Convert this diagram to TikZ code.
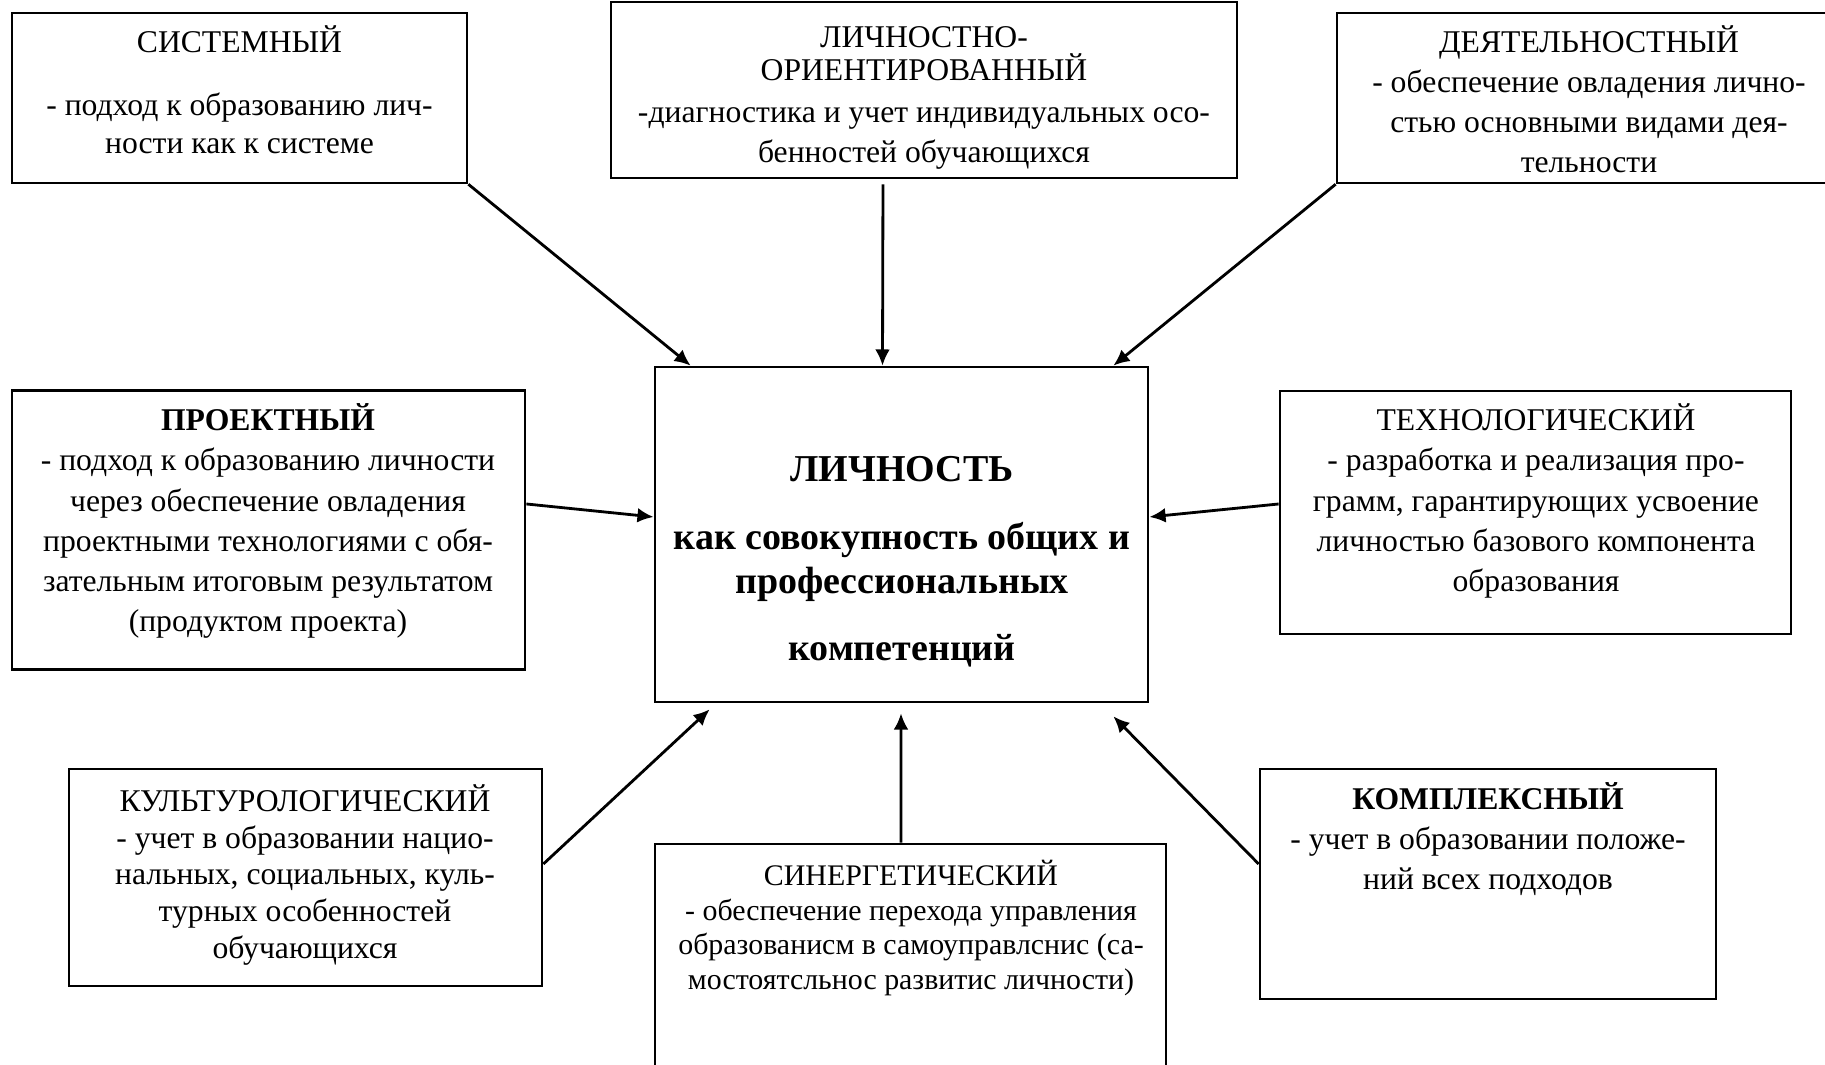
\documentclass[tikz,border=0pt]{standalone}
\usepackage{fontspec}
\setmainfont{Liberation Serif}
\usepackage{tikz}
\usetikzlibrary{arrows.meta}

\tikzset{
  box/.style={draw, line width=0.7pt, inner sep=0pt},
  txt/.style={align=center, inner sep=0pt, font=\fontsize{9}{11.4}\selectfont},
  maintxt/.style={align=center, inner sep=0pt, font=\fontsize{10.8}{12.5}\selectfont\bfseries},
}

\begin{document}
\begin{tikzpicture}[x=0.01cm, y=-0.01cm, line width=0.8pt, >={Latex[length=4.6pt,width=4.2pt]}]
\clip (0,0) rectangle (1825,1065);
% boxes
\node[box, minimum width=4.55cm, minimum height=1.70cm]  (sys)    at (239.5,98)   {};
\node[box, minimum width=6.26cm, minimum height=1.76cm]  (lichor) at (924,90)     {};
\node[box, minimum width=5.04cm, minimum height=1.70cm]  (deyat)  at (1589,98)    {};
\node[box, minimum width=5.13cm, minimum height=2.785cm] (proekt) at (268.5,530)  {};
\node[box, minimum width=4.93cm, minimum height=3.35cm]  (ctr)    at (901.5,534.5){};
\node[box, minimum width=5.11cm, minimum height=2.43cm]  (tech)   at (1535.5,512.5){};
\node[box, minimum width=4.73cm, minimum height=2.17cm]  (kult)   at (305.5,877.5){};
\node[box, minimum width=5.11cm, minimum height=2.56cm]  (sinerg) at (910.5,972)  {};
\node[box, minimum width=4.56cm, minimum height=2.30cm]  (kompl)  at (1488,884)   {};

% texts
\node[txt] (sysT) at (239.5,90) {СИСТЕМНЫЙ\\[6.5pt]- подход к образованию лич-\\[-0.6pt]ности как к системе};
\node[txt] (lichorT) at (924,98) {ЛИЧНОСТНО-\\[-2pt]ОРИЕНТИРОВАННЫЙ\\[0.3pt]-диагностика и учет индивидуальных осо-\\бенностей обучающихся};
\node[txt] (deyatT) at (1589,99.5) {ДЕЯТЕЛЬНОСТНЫЙ\\- обеспечение овладения лично-\\стью основными видами дея-\\тельности};
\node[txt] (proektT) at (268,521) {\textbf{ПРОЕКТНЫЙ}\\- подход к образованию личности\\через обеспечение овладения\\проектными технологиями с обя-\\зательным итоговым результатом\\(продуктом проекта)};
\node[maintxt] (ctrT) at (902,561.5) {ЛИЧНОСТЬ\\[7pt]как совокупность общих и\\профессиональных\\[6.5pt]компетенций};
\node[txt] (techT) at (1536,501) {ТЕХНОЛОГИЧЕСКИЙ\\- разработка и реализация про-\\грамм, гарантирующих усвоение\\личностью базового компонента\\образования};
\node[txt, font=\fontsize{9}{10.5}\selectfont] (kultT) at (305,875) {КУЛЬТУРОЛОГИЧЕСКИЙ\\- учет в образовании нацио-\\нальных, социальных, куль-\\турных особенностей\\обучающихся};
\node[txt, font=\fontsize{8.5}{9.9}\selectfont] (sinergT) at (911,928) {СИНЕРГЕТИЧЕСКИЙ\\- обеспечение перехода управления\\образованисм в самоуправлснис (са-\\мостоятсльнос развитис личности)};
\node[txt] (komplT) at (1488,839) {\textbf{КОМПЛЕКСНЫЙ}\\- учет в образовании положе-\\ний всех подходов};

% arrows
\draw[->] (sys.south east) -- ([xshift=0.37cm]ctr.north west);
\draw[->] ([xshift=-0.41cm, yshift=-0.05cm]lichor.south) -- ([xshift=-0.19cm]ctr.north);
\draw[->] (deyat.south west) -- ([xshift=-0.36cm]ctr.north east);
\draw[->] ([yshift=0.26cm]proekt.east) -- ([yshift=0.175cm]ctr.west);
\draw[->] ([yshift=0.085cm]tech.west) -- ([yshift=0.175cm]ctr.east);
\draw[->] ([yshift=0.135cm]kult.east) -- ([xshift=0.56cm, yshift=-0.06cm]ctr.south west);
\draw[->] ([xshift=-0.095cm]sinerg.north) -- ([xshift=-0.005cm, yshift=-0.1cm]ctr.south);
\draw[->] ([yshift=0.2cm]kompl.west) -- ([xshift=-0.36cm, yshift=-0.13cm]ctr.south east);
\end{tikzpicture}
\end{document}
